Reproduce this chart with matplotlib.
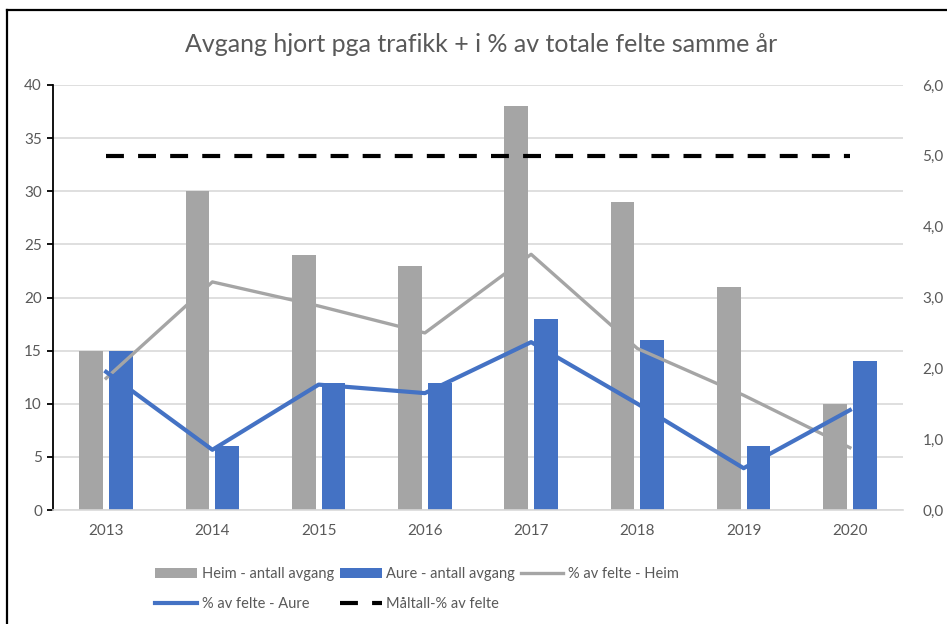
import matplotlib.pyplot as plt
from matplotlib.lines import Line2D
from matplotlib.ticker import FuncFormatter
import numpy as np

plt.rcParams["font.family"] = ["Lato", "DejaVu Sans"]

# Data
years = ["2013", "2014", "2015", "2016", "2017", "2018", "2019", "2020"]
heim_avgang = [15, 30, 24, 23, 38, 29, 21, 10]
aure_avgang = [15, 6, 12, 12, 18, 16, 6, 14]
pct_heim = [1.86, 3.22, 2.88, 2.50, 3.61, 2.28, 1.62, 0.88]
pct_aure = [1.95, 0.85, 1.77, 1.65, 2.37, 1.50, 0.59, 1.41]
maltall = [5.0, 5.0, 5.0, 5.0, 5.0, 5.0, 5.0, 5.0]

grey = "#a5a5a5"
blue = "#4472c4"
txt = "#595959"

fig = plt.figure(figsize=(9.47, 6.24), dpi=100)
ax = fig.add_axes([53 / 947, 1 - 510 / 624, 850 / 947, 425 / 624])
ax2 = ax.twinx()

x = np.arange(len(years))
w = 0.225
b1 = ax.bar(x - 0.14, heim_avgang, width=w, color=grey, label="Heim - antall avgang", zorder=2)
b2 = ax.bar(x + 0.14, aure_avgang, width=w, color=blue, label="Aure - antall avgang", zorder=2)

l1, = ax2.plot(x, pct_heim, color=grey, lw=2.4, label="% av felte - Heim")
l2, = ax2.plot(x, pct_aure, color=blue, lw=3.0, label="% av felte - Aure")
l3, = ax2.plot(x, maltall, color="black", lw=3.0, dashes=(4.3, 3.4), label="Måltall-% av felte")

ax.set_xlim(-0.5, len(years) - 0.5)
ax.set_ylim(0, 40)
ax.set_yticks(range(0, 41, 5))
ax2.set_ylim(0, 6)
ax2.set_yticks(range(0, 7))
ax2.yaxis.set_major_formatter(FuncFormatter(lambda v, p: f"{v:.1f}".replace(".", ",")))

ax.set_xticks(x)
ax.set_xticklabels(years)
ax.grid(axis="y", color="#d9d9d9", lw=1.2, zorder=0)
ax.set_axisbelow(True)

for a in (ax, ax2):
    for s in ("top", "right"):
        a.spines[s].set_visible(False)
ax2.spines["left"].set_visible(False)
ax2.spines["bottom"].set_visible(False)
ax.spines["bottom"].set_color("#d9d9d9")
ax.spines["bottom"].set_linewidth(1.2)
ax.spines["left"].set_color("black")
ax.spines["left"].set_linewidth(1.3)

ax.tick_params(axis="x", length=0, labelsize=11, labelcolor=txt, pad=10)
ax.tick_params(axis="y", length=4, width=1.3, color="black", labelsize=11, labelcolor=txt, pad=4)
ax2.tick_params(axis="y", length=0, labelsize=11, labelcolor=txt, pad=14)

fig.text(0.508, 1 - 45 / 624, "Avgang hjort pga trafikk + i % av totale felte samme år",
         ha="center", va="center", fontsize=18, color=txt)

# legend ordered so rows read: bars, % Heim / % Aure, Måltall
handles = [b1, l2, b2, l3, l1]
fig.legend(handles, [h.get_label() for h in handles], ncol=3,
           loc="center", bbox_to_anchor=(0.44, 1 - 589 / 624),
           frameon=False, fontsize=10.5, labelcolor=txt,
           handlelength=2.9, columnspacing=0.4, handletextpad=0.3, labelspacing=1.1)

# chart border
fig.add_artist(Line2D([7 / 947, 1], [1 - 10 / 624] * 2, color="black", lw=1.6, transform=fig.transFigure))
fig.add_artist(Line2D([7 / 947] * 2, [0, 1 - 10 / 624], color="black", lw=1.6, transform=fig.transFigure))

plt.savefig("out.png", dpi=100)
plt.close()
